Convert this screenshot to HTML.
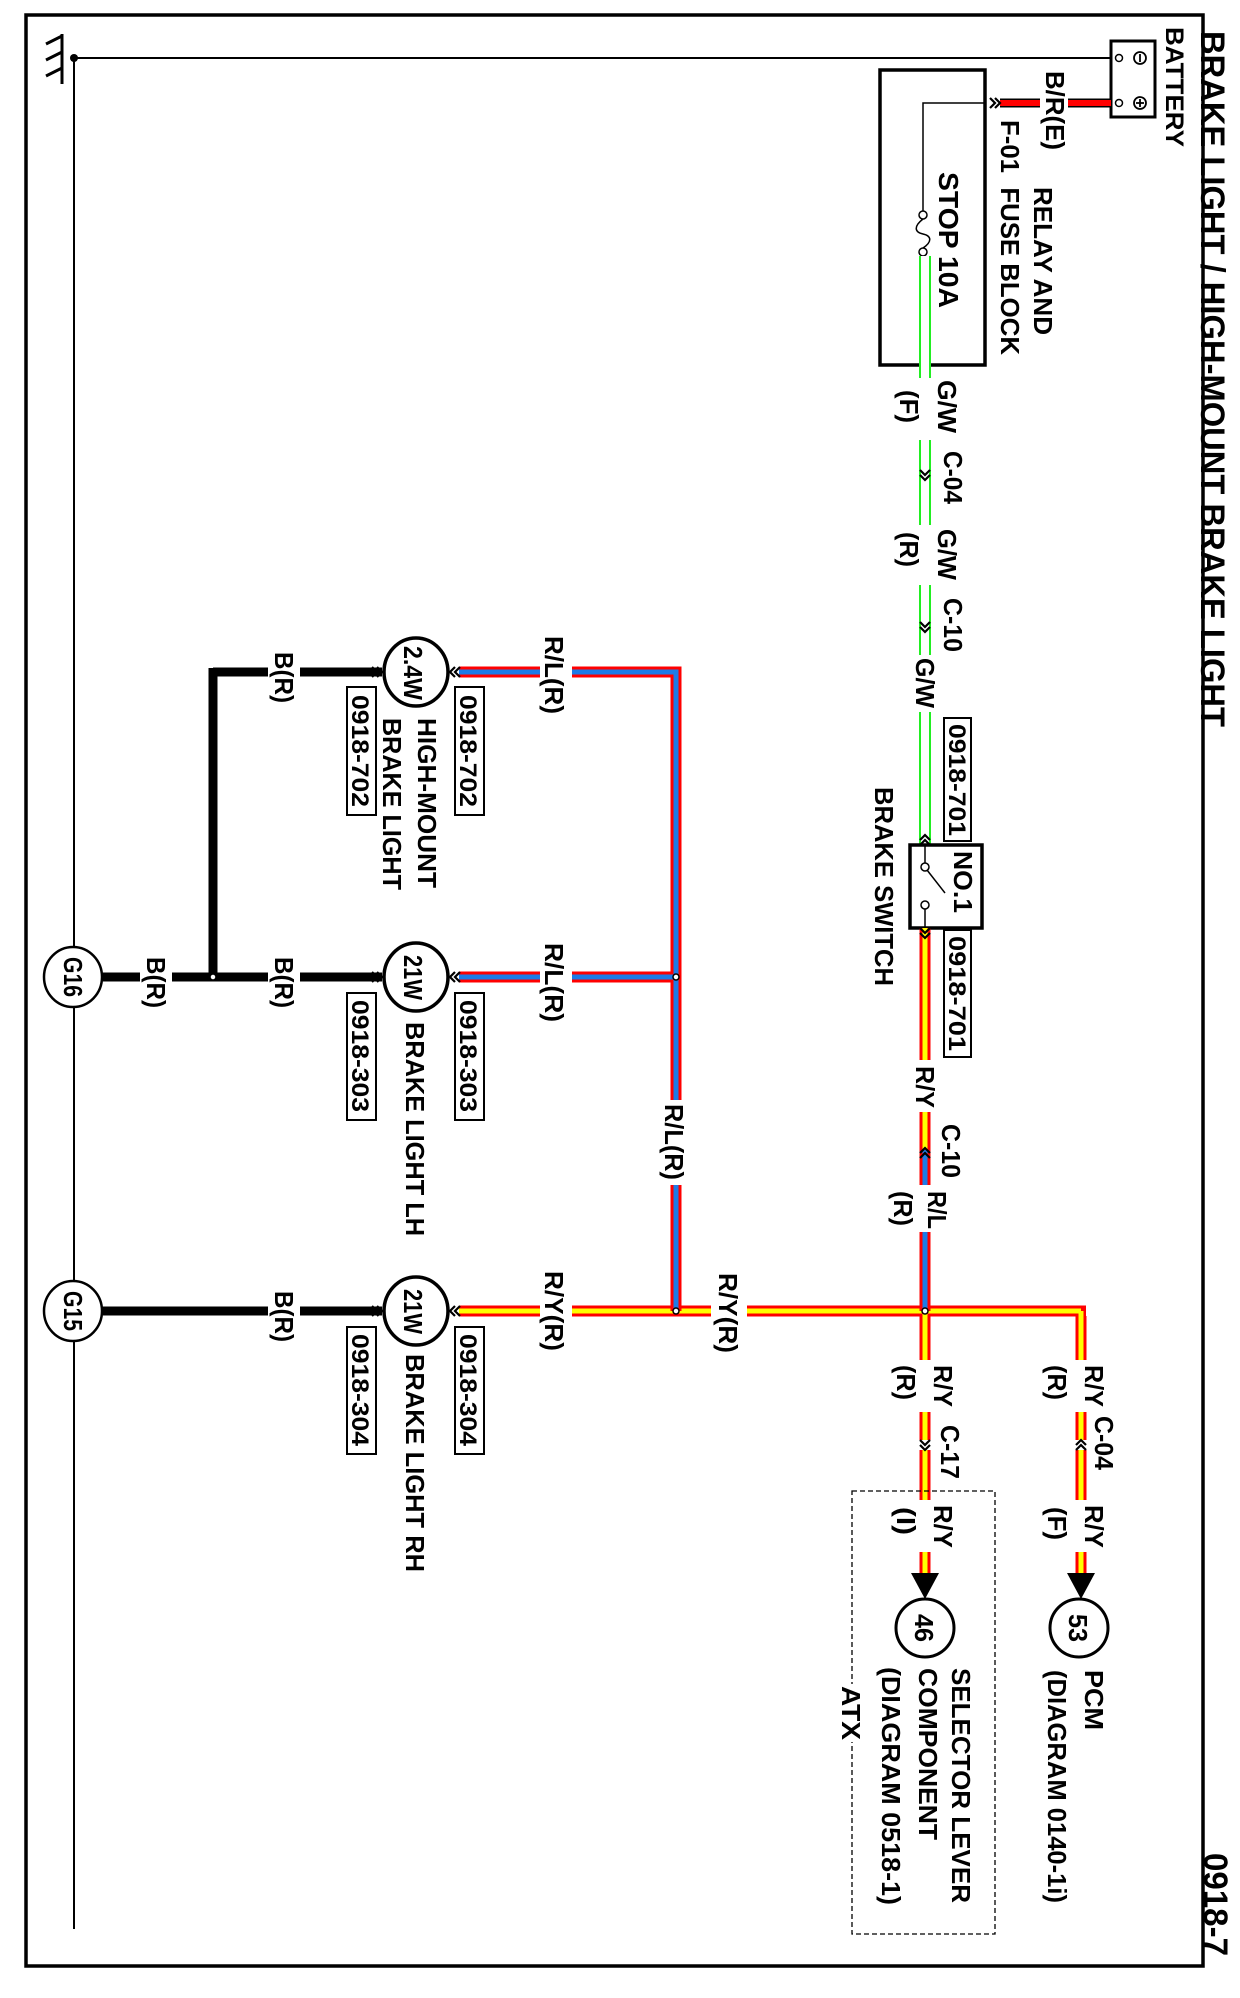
<!DOCTYPE html>
<html><head><meta charset="utf-8"><style>
html,body{margin:0;padding:0;background:#fff}
svg{display:block}
text{font-family:"Liberation Sans",sans-serif;fill:#000;font-weight:bold}
</style></head><body>
<svg width="1240" height="1998" viewBox="0 0 1240 1998" xmlns="http://www.w3.org/2000/svg">
<defs>
<g id="chl"><polyline points="5,-5 0,0 5,5" fill="none" stroke="#000" stroke-width="2.2"/><polyline points="10,-5 5,0 10,5" fill="none" stroke="#000" stroke-width="2.2"/></g>
</defs>
<rect width="1240" height="1998" fill="#fff"/>
<rect x="26" y="15" width="1177" height="1951" fill="none" stroke="#000" stroke-width="3.5"/>

<line x1="62" y1="34" x2="62" y2="84" stroke="#000" stroke-width="3"/>
<line x1="62" y1="36" x2="46" y2="44" stroke="#000" stroke-width="3"/>
<line x1="62" y1="52" x2="46" y2="60" stroke="#000" stroke-width="3"/>
<line x1="62" y1="68" x2="46" y2="76" stroke="#000" stroke-width="3"/>
<line x1="74" y1="58" x2="1111" y2="58" stroke="#000" stroke-width="2"/>
<line x1="74" y1="58" x2="74" y2="1929" stroke="#000" stroke-width="2"/>
<circle cx="74" cy="58" r="4" fill="#000"/>

<rect x="1111" y="41" width="44" height="76" fill="#fff" stroke="#000" stroke-width="3"/>
<circle cx="1119" cy="58" r="3.5" fill="#fff" stroke="#000" stroke-width="1.5"/>
<circle cx="1119" cy="103" r="3.5" fill="#fff" stroke="#000" stroke-width="1.5"/>
<circle cx="1140" cy="58" r="6" fill="none" stroke="#000" stroke-width="1.8"/>
<line x1="1140" y1="54" x2="1140" y2="62" stroke="#000" stroke-width="1.8"/>
<circle cx="1140" cy="103" r="6" fill="none" stroke="#000" stroke-width="1.8"/>
<line x1="1140" y1="99" x2="1140" y2="107" stroke="#000" stroke-width="1.8"/>
<line x1="1136" y1="103" x2="1144" y2="103" stroke="#000" stroke-width="1.8"/>

<g stroke-linecap="butt">
<line x1="1000" y1="103" x2="1040" y2="103" stroke="#000" stroke-width="9"/>
<line x1="1000" y1="103" x2="1040" y2="103" stroke="#f00" stroke-width="6"/>
<line x1="1068" y1="103" x2="1111" y2="103" stroke="#000" stroke-width="9"/>
<line x1="1068" y1="103" x2="1111" y2="103" stroke="#f00" stroke-width="6"/>
</g>
<use href="#chl" transform="translate(1000,103) rotate(180)"/>

<rect x="880" y="70" width="105" height="295" fill="none" stroke="#000" stroke-width="3.5"/>
<polyline points="985,103 923,103 923,211" fill="none" stroke="#000" stroke-width="1.5"/>
<circle cx="923" cy="215" r="4" fill="#fff" stroke="#000" stroke-width="1.5"/>
<circle cx="923" cy="252" r="4" fill="#fff" stroke="#000" stroke-width="1.5"/>
<path d="M923,219 C914,226 914,232 923,234 C932,236 932,242 923,248" fill="none" stroke="#000" stroke-width="1.5"/>

<g>
<path d="M925,256 V378 M925,440 V525 M925,585 V655 M925,712 V845" stroke="#2e2" stroke-width="12" fill="none"/>
<path d="M925,256 V378 M925,440 V525 M925,585 V655 M925,712 V845" stroke="#fff" stroke-width="8" fill="none"/>
</g>
<use href="#chl" transform="translate(925,480) rotate(-90)"/>
<use href="#chl" transform="translate(925,632) rotate(-90)"/>
<use href="#chl" transform="translate(925,835) rotate(90)"/>

<rect x="910" y="845" width="72" height="83" fill="#fff" stroke="#000" stroke-width="3.5"/>
<circle cx="925" cy="867" r="4" fill="#fff" stroke="#000" stroke-width="1.5"/>
<circle cx="925" cy="905" r="4" fill="#fff" stroke="#000" stroke-width="1.5"/>
<line x1="927" y1="870" x2="945" y2="893" stroke="#000" stroke-width="1.5"/>
<line x1="925" y1="845" x2="925" y2="863" stroke="#000" stroke-width="1.5"/>
<line x1="925" y1="909" x2="925" y2="928" stroke="#000" stroke-width="1.5"/>

<g fill="none" stroke-linecap="butt">
<path d="M925,928 V1060 M925,1112 V1150 M925,1450 V1500 M925,1552 V1573 M925,1311 V1360 M925,1412 V1440 M1081,1316 V1360 M1081,1412 V1440 M1081,1450 V1500 M1081,1552 V1573 M459,1311 H540 M572,1311 H711 M747,1311 H1086" stroke="#f00" stroke-width="11"/>
<path d="M925,928 V1060 M925,1112 V1150 M925,1450 V1500 M925,1552 V1573 M925,1311 V1360 M925,1412 V1440 M1081,1311 V1360 M1081,1412 V1440 M1081,1450 V1500 M1081,1552 V1573 M459,1311 H540 M572,1311 H711 M747,1311 H1081" stroke="#ff0" stroke-width="5"/>
<path d="M925,1150 V1185 M925,1232 V1311 M459,672 H540 M572,672 H676 V1100 M676,1185 V1311 M459,977 H540 M572,977 H676" stroke="#f00" stroke-width="11"/>
<path d="M925,1150 V1185 M925,1232 V1311 M459,672 H540 M572,672 H676 V1100 M676,1185 V1311 M459,977 H540 M572,977 H676" stroke="#1e7be6" stroke-width="5"/>
</g>
<use href="#chl" transform="translate(925,938) rotate(-90)"/>
<use href="#chl" transform="translate(925,1148) rotate(90)"/>
<use href="#chl" transform="translate(925,1450) rotate(-90)"/>
<use href="#chl" transform="translate(1081,1440) rotate(90)"/>
<circle cx="676" cy="977" r="3" fill="#fff" stroke="#000" stroke-width="1.5"/>
<circle cx="676" cy="1311" r="3" fill="#fff" stroke="#000" stroke-width="1.5"/>
<circle cx="925" cy="1311" r="3" fill="#fff" stroke="#000" stroke-width="1.5"/>
<polygon points="911,1573 939,1573 925,1599" fill="#000"/>
<polygon points="1067,1573 1095,1573 1081,1599" fill="#000"/>
<ellipse cx="925" cy="1628" rx="29" ry="29" fill="#fff" stroke="#000" stroke-width="3"/>
<ellipse cx="1079" cy="1628" rx="29" ry="29" fill="#fff" stroke="#000" stroke-width="3"/>
<rect x="852" y="1491" width="143" height="443" fill="none" stroke="#000" stroke-width="1.3" stroke-dasharray="5,3"/>
<rect x="838" y="1684" width="26" height="58" fill="#fff"/>

<g stroke="#000" stroke-width="9" fill="none">
<path d="M213,672 H268 M300,672 H382"/>
<path d="M213,668 V981"/>
<path d="M103,977 H140 M172,977 H268 M300,977 H382"/>
<path d="M103,1311 H268 M300,1311 H382"/>
</g>
<circle cx="213" cy="977" r="3" fill="#fff" stroke="#000" stroke-width="1.5"/>
<use href="#chl" transform="translate(382,672) rotate(180)"/>
<use href="#chl" transform="translate(382,977) rotate(180)"/>
<use href="#chl" transform="translate(382,1311) rotate(180)"/>
<use href="#chl" transform="translate(450,672)"/>
<use href="#chl" transform="translate(450,977)"/>
<use href="#chl" transform="translate(450,1311)"/>

<ellipse cx="416" cy="672" rx="32" ry="34" fill="#fff" stroke="#000" stroke-width="3.5"/>
<ellipse cx="416" cy="977" rx="32" ry="34" fill="#fff" stroke="#000" stroke-width="3.5"/>
<ellipse cx="416" cy="1311" rx="32" ry="34" fill="#fff" stroke="#000" stroke-width="3.5"/>
<ellipse cx="73" cy="977" rx="29" ry="30" fill="#fff" stroke="#000" stroke-width="2.5"/>
<ellipse cx="73" cy="1311" rx="29" ry="30" fill="#fff" stroke="#000" stroke-width="2.5"/>

<g fill="#fff" stroke="#000" stroke-width="2">
<rect x="944" y="718" width="27" height="123"/>
<rect x="944" y="930" width="27" height="127"/>
<rect x="455" y="687" width="29" height="128"/>
<rect x="347" y="687" width="29" height="128"/>
<rect x="455" y="993" width="29" height="127"/>
<rect x="347" y="993" width="29" height="127"/>
<rect x="455" y="1327" width="29" height="127"/>
<rect x="347" y="1327" width="29" height="127"/>
</g>

<g font-size="26">
<text transform="translate(1201,31) rotate(90)" font-size="34" textLength="696" lengthAdjust="spacingAndGlyphs">BRAKE LIGHT / HIGH-MOUNT BRAKE LIGHT</text>
<text transform="translate(1204,1853) rotate(90)" font-size="34" textLength="103" lengthAdjust="spacingAndGlyphs">0918-7</text>
<text transform="translate(1166,27) rotate(90)" font-size="25" textLength="120" lengthAdjust="spacingAndGlyphs">BATTERY</text>
<text transform="translate(1046,71) rotate(90)" textLength="79" lengthAdjust="spacingAndGlyphs">B/R(E)</text>
<text transform="translate(1034,187) rotate(90)" textLength="148" lengthAdjust="spacingAndGlyphs">RELAY AND</text>
<text transform="translate(1001,120) rotate(90)" textLength="235" lengthAdjust="spacingAndGlyphs" xml:space="preserve">F-01  FUSE BLOCK</text>
<text transform="translate(939,172) rotate(90)" font-size="28" textLength="136" lengthAdjust="spacingAndGlyphs">STOP 10A</text>
<text transform="translate(938,380) rotate(90)" textLength="53" lengthAdjust="spacingAndGlyphs">G/W</text>
<text transform="translate(900,390) rotate(90)" textLength="33" lengthAdjust="spacingAndGlyphs">(F)</text>
<text transform="translate(944,451) rotate(90)" textLength="53" lengthAdjust="spacingAndGlyphs">C-04</text>
<text transform="translate(938,529) rotate(90)" textLength="51" lengthAdjust="spacingAndGlyphs">G/W</text>
<text transform="translate(900,532) rotate(90)" textLength="35" lengthAdjust="spacingAndGlyphs">(R)</text>
<text transform="translate(944,598) rotate(90)" textLength="54" lengthAdjust="spacingAndGlyphs">C-10</text>
<text transform="translate(916,658) rotate(90)" textLength="50" lengthAdjust="spacingAndGlyphs">G/W</text>
<text transform="translate(949,724) rotate(90)" font-size="24" textLength="112" lengthAdjust="spacingAndGlyphs">0918-701</text>
<text transform="translate(949,936) rotate(90)" font-size="24" textLength="115" lengthAdjust="spacingAndGlyphs">0918-701</text>
<text transform="translate(954,851) rotate(90)" textLength="62" lengthAdjust="spacingAndGlyphs">NO.1</text>
<text transform="translate(875,787) rotate(90)" textLength="199" lengthAdjust="spacingAndGlyphs">BRAKE SWITCH</text>
<text transform="translate(916,1066) rotate(90)" textLength="42" lengthAdjust="spacingAndGlyphs">R/Y</text>
<text transform="translate(942,1124) rotate(90)" textLength="54" lengthAdjust="spacingAndGlyphs">C-10</text>
<text transform="translate(928,1191) rotate(90)" textLength="38" lengthAdjust="spacingAndGlyphs">R/L</text>
<text transform="translate(894,1191) rotate(90)" textLength="35" lengthAdjust="spacingAndGlyphs">(R)</text>
<text transform="translate(665,1104) rotate(90)" textLength="76" lengthAdjust="spacingAndGlyphs">R/L(R)</text>
<text transform="translate(545,636) rotate(90)" textLength="78" lengthAdjust="spacingAndGlyphs">R/L(R)</text>
<text transform="translate(545,943) rotate(90)" textLength="79" lengthAdjust="spacingAndGlyphs">R/L(R)</text>
<text transform="translate(545,1271) rotate(90)" textLength="80" lengthAdjust="spacingAndGlyphs">R/Y(R)</text>
<text transform="translate(719,1273) rotate(90)" textLength="80" lengthAdjust="spacingAndGlyphs">R/Y(R)</text>
<text transform="translate(404,646) rotate(90)" textLength="54" lengthAdjust="spacingAndGlyphs">2.4W</text>
<text transform="translate(404,955) rotate(90)" textLength="45" lengthAdjust="spacingAndGlyphs">21W</text>
<text transform="translate(404,1289) rotate(90)" textLength="45" lengthAdjust="spacingAndGlyphs">21W</text>
<text transform="translate(460,695) rotate(90)" font-size="24" textLength="112" lengthAdjust="spacingAndGlyphs">0918-702</text>
<text transform="translate(352,695) rotate(90)" font-size="24" textLength="112" lengthAdjust="spacingAndGlyphs">0918-702</text>
<text transform="translate(460,1000) rotate(90)" font-size="24" textLength="112" lengthAdjust="spacingAndGlyphs">0918-303</text>
<text transform="translate(352,1000) rotate(90)" font-size="24" textLength="112" lengthAdjust="spacingAndGlyphs">0918-303</text>
<text transform="translate(460,1334) rotate(90)" font-size="24" textLength="112" lengthAdjust="spacingAndGlyphs">0918-304</text>
<text transform="translate(352,1334) rotate(90)" font-size="24" textLength="112" lengthAdjust="spacingAndGlyphs">0918-304</text>
<text transform="translate(418,718) rotate(90)" textLength="170" lengthAdjust="spacingAndGlyphs">HIGH-MOUNT</text>
<text transform="translate(383,718) rotate(90)" textLength="172" lengthAdjust="spacingAndGlyphs">BRAKE LIGHT</text>
<text transform="translate(406,1022) rotate(90)" textLength="214" lengthAdjust="spacingAndGlyphs">BRAKE LIGHT LH</text>
<text transform="translate(406,1354) rotate(90)" textLength="218" lengthAdjust="spacingAndGlyphs">BRAKE LIGHT RH</text>
<text transform="translate(275,652) rotate(90)" textLength="51" lengthAdjust="spacingAndGlyphs">B(R)</text>
<text transform="translate(275,957) rotate(90)" textLength="51" lengthAdjust="spacingAndGlyphs">B(R)</text>
<text transform="translate(147,957) rotate(90)" textLength="51" lengthAdjust="spacingAndGlyphs">B(R)</text>
<text transform="translate(275,1291) rotate(90)" textLength="51" lengthAdjust="spacingAndGlyphs">B(R)</text>
<text transform="translate(64,957) rotate(90)" textLength="40" lengthAdjust="spacingAndGlyphs">G16</text>
<text transform="translate(64,1291) rotate(90)" textLength="40" lengthAdjust="spacingAndGlyphs">G15</text>
<text transform="translate(1085,1365) rotate(90)" textLength="42" lengthAdjust="spacingAndGlyphs">R/Y</text>
<text transform="translate(1048,1365) rotate(90)" textLength="35" lengthAdjust="spacingAndGlyphs">(R)</text>
<text transform="translate(1095,1416) rotate(90)" textLength="54" lengthAdjust="spacingAndGlyphs">C-04</text>
<text transform="translate(1085,1505) rotate(90)" textLength="43" lengthAdjust="spacingAndGlyphs">R/Y</text>
<text transform="translate(1048,1507) rotate(90)" textLength="33" lengthAdjust="spacingAndGlyphs">(F)</text>
<text transform="translate(934,1365) rotate(90)" textLength="42" lengthAdjust="spacingAndGlyphs">R/Y</text>
<text transform="translate(897,1365) rotate(90)" textLength="35" lengthAdjust="spacingAndGlyphs">(R)</text>
<text transform="translate(941,1425) rotate(90)" textLength="54" lengthAdjust="spacingAndGlyphs">C-17</text>
<text transform="translate(934,1505) rotate(90)" textLength="43" lengthAdjust="spacingAndGlyphs">R/Y</text>
<text transform="translate(897,1507) rotate(90)" textLength="28" lengthAdjust="spacingAndGlyphs">(I)</text>
<text transform="translate(1069,1614) rotate(90)" textLength="28" lengthAdjust="spacingAndGlyphs">53</text>
<text transform="translate(915,1614) rotate(90)" textLength="28" lengthAdjust="spacingAndGlyphs">46</text>
<text transform="translate(1085,1670) rotate(90)" textLength="60" lengthAdjust="spacingAndGlyphs">PCM</text>
<text transform="translate(1048,1670) rotate(90)" textLength="233" lengthAdjust="spacingAndGlyphs">(DIAGRAM 0140-1i)</text>
<text transform="translate(952,1668) rotate(90)" textLength="235" lengthAdjust="spacingAndGlyphs">SELECTOR LEVER</text>
<text transform="translate(919,1668) rotate(90)" textLength="172" lengthAdjust="spacingAndGlyphs">COMPONENT</text>
<text transform="translate(882,1667) rotate(90)" textLength="238" lengthAdjust="spacingAndGlyphs">(DIAGRAM 0518-1)</text>
<text transform="translate(842,1686) rotate(90)" textLength="54" lengthAdjust="spacingAndGlyphs">ATX</text>
</g>
</svg>
</body></html>
